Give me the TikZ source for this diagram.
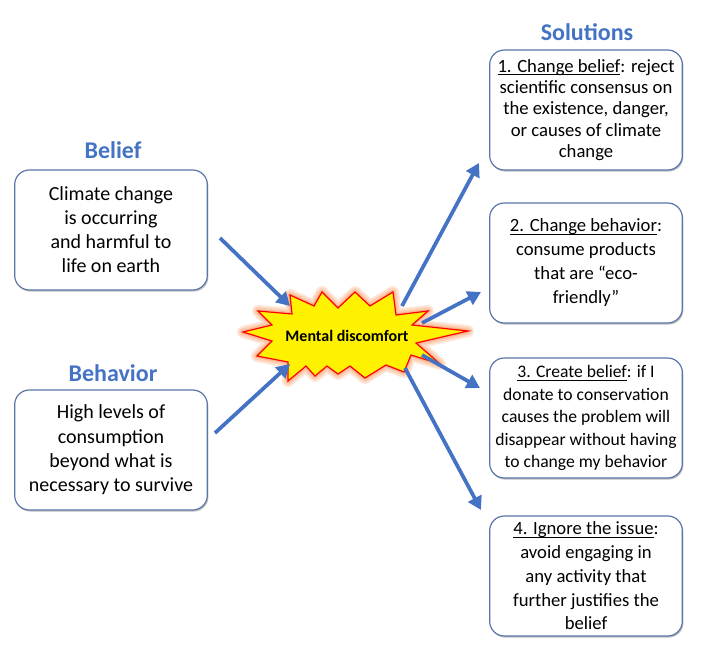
\documentclass[tikz,border=0pt]{standalone}
\usepackage{fontspec}
\setmainfont{Carlito}
\usepackage{xcolor}
\usetikzlibrary{arrows.meta,shadows}

\definecolor{titleblue}{RGB}{68,114,196}
\definecolor{arrblue}{RGB}{68,114,196}
\definecolor{boxblue}{RGB}{88,118,170}
\definecolor{glow}{RGB}{250,150,90}

% underline just below the baseline
\newcommand{\ulbit}[1]{\setbox0\hbox{#1}\rlap{\rule[-1.9pt]{\wd0}{0.6pt}}\box0}

\tikzset{
  title/.style={text=titleblue,font=\fontsize{18}{21}\selectfont\bfseries},
  box/.style={draw=boxblue,line width=0.9pt,rounded corners=11pt,fill=white,
    minimum width=144.5pt,minimum height=90pt,align=center,
    drop shadow={shadow xshift=0.8pt,shadow yshift=-1.2pt,opacity=0.25,fill=black}},
  arr/.style={draw=arrblue,line width=2.8pt,-{Triangle[length=10pt,width=11pt]}}
}

\begin{document}
\begin{tikzpicture}[x=0.75pt,y=-0.75pt]
\useasboundingbox (0,0) rectangle (721,663);

% titles
\node[title] (tbel) at (113,150) {Belief};
\node[title] (tbeh) at (113,373) {Behavior};
\node[title] (tsol) at (587,32) {Solutions};

% left boxes
\node[box,font=\fontsize{15}{18}\selectfont] (belief) at (111,230)
  {Climate change\\ is occurring\\ and harmful to\\ life on earth};
\node[box,font=\fontsize{15}{18.3}\selectfont] (behav) at (111,450)
  {High levels of\\ consumption\\ beyond what is\\ necessary to survive};

% solution boxes
\node[box,font=\fontsize{14}{16}\selectfont] (sol1) at (586,110)
  {\ulbit{1. Change belief}: reject\\ scientific consensus on\\ the existence, danger,\\ or causes of climate\\ change};
\node[box,font=\fontsize{14}{18}\selectfont] (sol2) at (586,263)
  {\ulbit{2. Change behavior}:\\ consume products\\ that are “eco-\\ friendly”};
\node[box,font=\fontsize{13.2}{16.8}\selectfont] (sol3) at (586,418)
  {\ulbit{3. Create belief}: if I\\ donate to conservation\\ causes the problem will\\ disappear without having\\ to change my behavior};
\node[box,font=\fontsize{14}{17.8}\selectfont] (sol4) at (586,576)
  {\ulbit{4. Ignore the issue}:\\ avoid engaging in\\ any activity that\\ further justifies the\\ belief};

% star
\def\starpath{(243,332) -- (272,325) -- (258,311) -- (292,314) -- (290,295) -- (314,306)
  -- (322,292) -- (338,308) -- (355,292) -- (370,306) -- (393,292) -- (396,315)
  -- (428,311) -- (412,325) -- (468,331) -- (416,343) -- (440,364) -- (411,355)
  -- (404,372) -- (386,365) -- (365,378) -- (350,366) -- (338,374) -- (327,366)
  -- (315,376) -- (306,366) -- (288,381) -- (288,362) -- (257,356) -- (272,341) -- cycle}
\draw[glow!25,line width=9pt,line join=round] \starpath;
\draw[glow!45,line width=6pt,line join=round] \starpath;
\draw[glow!70,line width=3pt,line join=round] \starpath;
\filldraw[fill=yellow,draw=red,line width=0.9pt,line join=miter] \starpath;
\node[font=\fontsize{12}{14}\selectfont\bfseries] (star) at (347,336) {Mental discomfort};

% arrow ends
\coordinate (b1) at (220,238); \coordinate (b2) at (290,306);
\coordinate (h1) at (215,433); \coordinate (h2) at (290,364);
\coordinate (s1a) at (402,306); \coordinate (s1b) at (479,163);
\coordinate (s2a) at (422,323); \coordinate (s2b) at (481,292);
\coordinate (s3a) at (422,355); \coordinate (s3b) at (480,388);
\coordinate (s4a) at (405,368); \coordinate (s4b) at (481,510);

\draw[arr] (b1) -- (b2);
\draw[arr] (h1) -- (h2);
\draw[arr] (s1a) -- (s1b);
\draw[arr] (s2a) -- (s2b);
\draw[arr] (s3a) -- (s3b);
\draw[arr] (s4a) -- (s4b);

\end{tikzpicture}
\end{document}
